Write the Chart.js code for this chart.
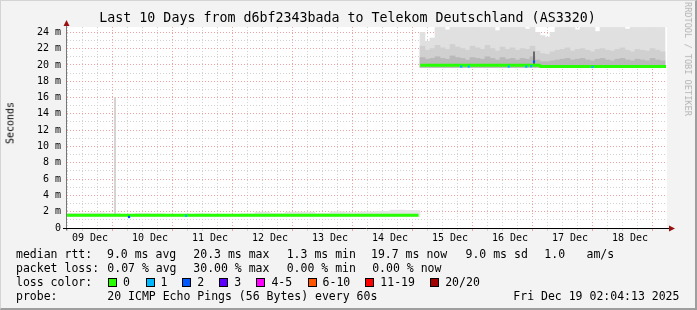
<!DOCTYPE html>
<html>
<head>
<meta charset="utf-8">
<script src="https://cdn.jsdelivr.net/npm/chart.js@4.4.1/dist/chart.umd.min.js"></script>
<style>
body { margin: 0; background: #fff; }
#wrap { position: relative; width: 697px; height: 310px; background: #f3f3f3; overflow: hidden;
        font-family: "DejaVu Sans Mono", monospace; color: #000; }
#frame { position: absolute; left: 0; top: 0; width: 697px; height: 310px; box-sizing: border-box;
         border-top: 1px solid #d4d4d4; border-left: 1px solid #d4d4d4;
         border-right: 2px solid #9e9e9e; border-bottom: 2px solid #9e9e9e; pointer-events: none; }
canvas { position: absolute; left: 0; top: 0; }
.t { position: absolute; white-space: pre; font-size: 11.5px; line-height: 14px; }
.box { position: absolute; width: 7px; height: 7px; border: 1px solid #000; }
#title { position: absolute; left: 0; width: 695px; top: 10px; text-align: center; font-size: 13.3px; line-height: 16px; white-space: pre; }
#ylab { position: absolute; left: 10px; top: 123px; font-size: 10px; font-weight: normal; transform: translate(-50%, -50%) rotate(-90deg); white-space: pre; }
#wm { position: absolute; left: 688px; top: 59px; font-size: 8.6px; color: #b4b4b4; transform: translate(-50%, -50%) rotate(90deg); white-space: pre; }
</style>
</head>
<body>
<div id="wrap">
  <canvas id="myChart" width="697" height="310"></canvas>
  <div id="title">Last 10 Days from d6bf2343bada to Telekom Deutschland (AS3320)</div>
  <div id="ylab">Seconds</div>
  <div id="wm">RRDTOOL / TOBI OETIKER</div>
  <div id="legend"></div>
  <div id="frame"></div>
</div>
<script>
// x values are hours since 09 Dec 00:00
dayLabels = ['09 Dec', '10 Dec', '11 Dec', '12 Dec', '13 Dec', '14 Dec', '15 Dec', '16 Dec', '17 Dec', '18 Dec']
yTickLabels = ['0', '2 m', '4 m', '6 m', '8 m', '10 m', '12 m', '14 m', '16 m', '18 m', '20 m', '22 m', '24 m']

// median rtt (ms)
medianHours = [2.8, 143.4, 143.6, 144.1, 191.9, 192.1, 242.4]
medianMs = [1.55, 1.55, null, 19.95, 19.95, 19.8, 19.8]

// samples that lost pings (count = lost of 20)
lossHours = [27.6, 50.4, 160.5, 163.5, 179.5, 186.5, 188.5, 189.6, 213]
lossMs = [1.35, 1.5, 19.8, 19.8, 19.8, 19.8, 19.85, 20.4, 19.75]
lossCount = [2, 1, 1, 1, 1, 1, 1, 2, 1]

// smoke before the route change, 6 h bins
preSmokeHours = [3, 9, 15, 21, 27, 33, 39, 45, 51, 57, 63, 69, 75, 81, 87, 93, 99, 105, 111, 117, 123, 129, 135, 141]
preSmokeLo = 1.4
preSmokeHi = [1.8, 1.8, 1.85, 1.8, 1.7, 1.8, 1.75, 1.7, 1.7, 1.75, 1.7, 1.7, 1.75, 1.95, 1.8, 1.95, 1.95, 1.8, 2.0, 1.9, 2.0, 2.05, 2.2, 2.15]

// smoke after the route change, 2 h bins
postSmokeHours = [145, 147, 149, 151, 153, 155, 157, 159, 161, 163, 165, 167, 169, 171, 173, 175, 177, 179, 181, 183,
    185, 187, 189, 191, 193, 195, 197, 199, 201, 203, 205, 207, 209, 211, 213, 215, 217, 219, 221, 223,
    225, 227, 229, 231, 233, 235, 237, 239, 241]
postSmokeLo = 19.7
postSmokeHi = [24.0, 22.9, 23.3, 24.6, 24.6, 24.3, 24.6, 24.6, 24.6, 24.6, 24.6, 24.6, 24.6, 24.6, 24.6, 24.2, 24.6, 24.6, 24.6, 24.6,
    24.6, 24.4, 24.6, 24.0, 23.6, 23.4, 24.0, 24.6, 24.6, 24.6, 24.6, 24.3, 24.6, 24.6, 24.6, 24.1, 24.6, 24.6, 24.6, 24.6,
    24.6, 24.4, 24.6, 24.6, 24.6, 24.6, 24.6, 24.6, 24.6]
postSmokeMid = [22.3, 21.8, 22.0, 22.4, 22.1, 21.9, 22.5, 22.2, 22.0, 21.8, 22.3, 22.1, 21.9, 22.4, 22.0, 21.7, 22.2, 21.9, 22.1, 21.8,
    22.0, 21.9, 22.3, 21.7, 21.4, 21.3, 21.6, 21.8, 21.9, 22.1, 21.7, 21.9, 22.0, 21.8, 21.6, 21.9, 22.0, 21.8, 21.7, 21.9,
    22.1, 21.8, 21.6, 21.9, 21.8, 21.7, 22.0, 21.8, 21.6]
postSmokeCore = [20.9, 20.7, 20.8, 21.0, 20.8, 20.7, 21.1, 20.9, 20.8, 20.6, 20.9, 20.8, 20.7, 21.0, 20.8, 20.6, 20.9, 20.7, 20.8, 20.6,
    20.8, 20.7, 21.0, 20.6, 20.4, 20.4, 20.5, 20.6, 20.7, 20.8, 20.6, 20.7, 20.8, 20.6, 20.5, 20.7, 20.8, 20.6, 20.5, 20.7,
    20.8, 20.6, 20.5, 20.7, 20.6, 20.5, 20.8, 20.6, 20.5]

// single tall samples
spikeHours = [22, 189.6]
spikeLo = [1.6, 20.0]
spikeHi = [16.0, 21.6]

// legend texts
rttStats = ['9.0 ms avg', '20.3 ms max', '1.3 ms min', '19.7 ms now', '9.0 ms sd', '1.0', 'am/s']
lossStats = ['0.07 % avg', '30.00 % max', '0.00 % min', '0.00 % now']
lossNames = ['0', '1', '2', '3', '4-5', '6-10', '11-19', '20/20']
lossColors = ['#26ff00', '#00b8ff', '#0059ff', '#5e00ff', '#ff00ff', '#ff5500', '#ff0000', '#a00000']
probeText = '20 ICMP Echo Pings (56 Bytes) every 60s'
stampText = 'Fri Dec 19 02:04:13 2025'

// ---- legend ----
var leg = document.getElementById('legend')
function put(txt, x, y) {
    var d = document.createElement('div')
    d.className = 't'
    d.style.left = x + 'px'
    d.style.top = (y - 7) + 'px'
    d.textContent = txt
    leg.appendChild(d)
}
var rttX = [107, 193.3, 286.7, 371, 465.5, 544.3, 586.5]
put('median rtt:', 16, 254.3)
rttStats.forEach((s, i) => put(s, rttX[i], 254.3))
var lossX = [107.3, 193.3, 286.7, 372.2]
put('packet loss:', 16, 268)
lossStats.forEach((s, i) => put(s, lossX[i], 268))
put('loss color:', 16, 282)
var boxX = [108, 145.5, 182.3, 219.2, 256.4, 307.6, 365.3, 430.2]
lossNames.forEach((n, i) => {
    var b = document.createElement('div')
    b.className = 'box'
    b.style.left = boxX[i] + 'px'
    b.style.top = '278px'
    b.style.background = lossColors[i]
    leg.appendChild(b)
    put(n, boxX[i] + 15, 282)
})
put('probe:', 16, 296)
put(probeText, 107.3, 296)
put(stampText, 513.3, 296)

// ---- chart ----
var major = '#eea2a2'
var minor = '#d2d2d2'

var axesPlugin = {
    id: 'rrdAxes',
    beforeDraw(chart) {
        var c = chart.ctx, a = chart.chartArea
        c.save()
        c.fillStyle = '#ffffff'
        c.fillRect(a.left, a.top, a.right - a.left, a.bottom - a.top)
        c.restore()
    },
    afterDraw(chart) {
        var c = chart.ctx, a = chart.chartArea
        var ax = Math.round(a.left) - 0.5, ay = Math.round(a.bottom) + 0.5
        c.save()
        c.lineWidth = 1
        c.strokeStyle = '#777'
        c.beginPath(); c.moveTo(ax, ay + 2); c.lineTo(ax, a.top - 4); c.stroke()
        c.strokeStyle = '#000'
        c.beginPath(); c.moveTo(a.left - 4, ay); c.lineTo(a.right + 3, ay); c.stroke()
        c.fillStyle = '#9a1010'
        c.beginPath(); c.moveTo(ax - 3, a.top - 1); c.lineTo(ax + 3, a.top - 1); c.lineTo(ax, a.top - 7); c.fill()
        c.beginPath(); c.moveTo(a.right + 2, ay - 3); c.lineTo(a.right + 2, ay + 3); c.lineTo(a.right + 8, ay); c.fill()
        c.restore()
    }
}

function bars(hours, lo, hi) {
    return hours.map((h, i) => ({ x: h, y: [Array.isArray(lo) ? lo[i] : lo, hi[i]] }))
}

new Chart('myChart', {
    type: 'bar',
    data: {
        datasets: [{
            type: 'line',
            order: 0,
            data: lossHours.map((h, i) => ({ x: h, y: lossMs[i] })),
            showLine: false,
            pointStyle: 'rect',
            pointRadius: 1.6,
            pointBorderWidth: 0,
            pointBackgroundColor: ctx => lossColors[lossCount[ctx.dataIndex]] || lossColors[1]
        }, {
            type: 'line',
            order: 1,
            data: medianHours.map((h, i) => ({ x: h, y: medianMs[i] })),
            borderColor: lossColors[0],
            borderWidth: 3,
            borderCapStyle: 'butt',
            borderJoinStyle: 'round',
            pointRadius: 0,
            spanGaps: false,
            tension: 0
        }, {
            order: 2,
            data: bars(spikeHours.slice(0, 1), spikeLo.slice(0, 1), spikeHi.slice(0, 1)),
            backgroundColor: '#cccccc',
            barThickness: 1,
            grouped: false
        }, {
            order: 2,
            data: bars(spikeHours.slice(1), spikeLo.slice(1), spikeHi.slice(1)),
            backgroundColor: '#555555',
            barThickness: 1,
            grouped: false
        }, {
            order: 3,
            data: bars(postSmokeHours, postSmokeLo, postSmokeCore),
            backgroundColor: '#b9b9b9',
            barThickness: 5,
            grouped: false
        }, {
            order: 4,
            data: bars(postSmokeHours, postSmokeLo, postSmokeMid),
            backgroundColor: '#d0d0d0',
            barThickness: 5,
            grouped: false
        }, {
            order: 5,
            data: bars(postSmokeHours, postSmokeLo, postSmokeHi),
            backgroundColor: '#e0e0e0',
            barThickness: 5,
            grouped: false
        }, {
            order: 6,
            data: bars(preSmokeHours, preSmokeLo, preSmokeHi),
            backgroundColor: '#e4e4e4',
            barThickness: 15,
            grouped: false
        }]
    },
    plugins: [axesPlugin],
    options: {
        responsive: false,
        animation: false,
        layout: { padding: { left: 0, top: 27, right: 30, bottom: 62 } },
        plugins: { legend: { display: false }, tooltip: { enabled: false }, title: { display: false } },
        scales: {
            x: {
                type: 'linear',
                min: 2.8,
                max: 242.8,
                offset: false,
                afterFit: s => { s.height = 20 },
                afterBuildTicks: s => {
                    var t = []
                    for (var h = 6; h <= 240; h += 6) t.push({ value: h })
                    s.ticks = t
                },
                grid: {
                    color: ctx => ctx.tick && ctx.tick.value % 24 === 0 ? major : minor,
                    drawTicks: true,
                    tickLength: 3
                },
                border: { display: false, dash: [1, 2] },
                ticks: {
                    autoSkip: false,
                    maxRotation: 0,
                    padding: 1,
                    color: '#000',
                    font: { family: 'DejaVu Sans Mono', size: 10 },
                    callback: v => v % 24 === 12 ? dayLabels[(v - 12) / 24] : ''
                }
            },
            y: {
                min: 0,
                max: 24.65,
                afterFit: s => { s.width = 67 },
                afterBuildTicks: s => {
                    var t = []
                    for (var v = 0; v <= 24; v++) t.push({ value: v })
                    s.ticks = t
                },
                grid: {
                    color: ctx => ctx.tick && ctx.tick.value === 0 ? 'rgba(0,0,0,0)' : (ctx.tick && ctx.tick.value % 2 === 0 ? major : minor),
                    drawTicks: false
                },
                border: { display: false, dash: [1, 2] },
                ticks: {
                    autoSkip: false,
                    padding: 6,
                    color: '#000',
                    font: { family: 'DejaVu Sans Mono', size: 10 },
                    callback: v => v % 2 === 0 ? yTickLabels[v / 2] : ''
                }
            }
        }
    }
})
</script>
</body>
</html>
